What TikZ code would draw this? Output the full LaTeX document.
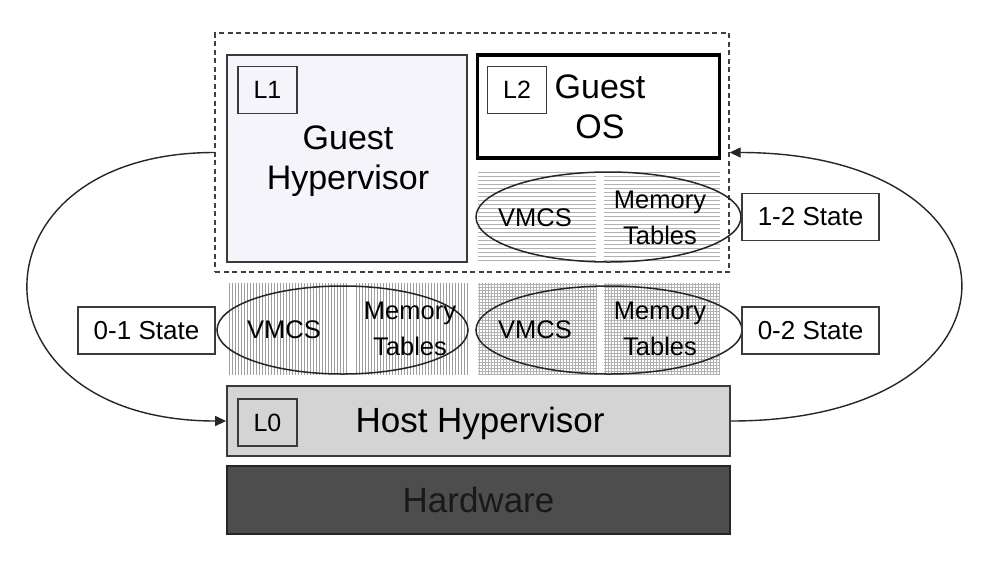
\documentclass[tikz,border=0pt]{standalone}
\usepackage{fontspec}
\setmainfont{Liberation Sans}
\usetikzlibrary{arrows.meta,shapes.geometric}
\definecolor{lavender}{HTML}{F4F4FA}
\definecolor{hostgrey}{HTML}{D4D4D4}
\definecolor{hwgrey}{HTML}{4D4D4D}
\definecolor{edge}{HTML}{3A3A3A}
\begin{document}
\begin{tikzpicture}[x=1pt,y=-1pt,
  box/.style={draw=edge, line width=1.8pt, inner sep=0pt},
  tagbox/.style={draw=edge, line width=1.5pt, inner sep=0pt, minimum width=59pt, minimum height=47pt, font=\fontsize{25}{28}\selectfont},
  statebox/.style={draw=edge, line width=1.7pt, fill=white, inner sep=0pt, minimum width=137pt, minimum height=47pt, font=\fontsize{26}{30}\selectfont},
  bigtext/.style={align=center, inner sep=0pt, font=\fontsize{34}{40}\selectfont},
  smalltext/.style={align=center, inner sep=0pt, font=\fontsize{25.5}{36}\selectfont},
  oval/.style={ellipse, draw=black!85, line width=1.5pt, inner sep=0pt},
  hatch/.style={line width=0.6pt, draw=black!38},
  hatchlight/.style={line width=0.55pt, draw=black!30},
  conn/.style={draw=black!85, line width=1.4pt},
  tip/.style={-{Triangle[length=11pt,width=10pt]}}
]
\useasboundingbox (0,0) rectangle (996,566);
\fill[white] (0,0) rectangle (996,566);

% dashed frame
\node[draw=black!75, dash pattern=on 5pt off 3.5pt, line width=1.4pt, minimum width=514pt, minimum height=239pt, inner sep=0pt] (dash) at (472,152.5) {};

% L1 guest hypervisor
\node[box, fill=lavender, minimum width=240pt, minimum height=207pt] (l1box) at (347,158.5) {};
\node[tagbox] (l1tag) at (267.5,90) {L1};
\node[bigtext] (l1text) at (348,161) {Guest\\Hypervisor};

% L2 guest OS
\node[draw=black, line width=3.6pt, inner sep=0pt, minimum width=242pt, minimum height=103pt] (l2box) at (598.5,106.5) {};
\node[tagbox] (l2tag) at (517,90) {L2};
\node[bigtext] (l2text) at (600,107) {Guest\\OS};

% hatches: upper (horizontal lines)
\foreach \y in {172,176,...,262} {
  \draw[hatchlight] (478,\y) -- (596,\y);
  \draw[hatchlight] (604,\y) -- (720,\y);
}
% middle left (vertical lines)
\foreach \x in {229,232,...,347} \draw[hatch] (\x,283) -- (\x,375);
\foreach \x in {356,359,...,467} \draw[hatch] (\x,283) -- (\x,375);
% middle right (grid)
\foreach \x in {479,482,...,597} \draw[hatchlight] (\x,283) -- (\x,375);
\foreach \x in {605,608,...,720} \draw[hatchlight] (\x,283) -- (\x,375);
\foreach \y in {284,287,...,375} {
  \draw[hatchlight] (478,\y) -- (597,\y);
  \draw[hatchlight] (604,\y) -- (720,\y);
}

% ellipses
\node[oval, minimum width=265pt, minimum height=90pt] (e12) at (608.5,217) {};
\node[oval, minimum width=251pt, minimum height=88pt] (e01) at (342.5,330) {};
\node[oval, minimum width=266pt, minimum height=88pt] (e02) at (609,330) {};

% texts in ellipses
\node[smalltext] (v12) at (535,218) {VMCS};
\node[smalltext] (m12) at (660,218) {Memory\\Tables};
\node[smalltext] (v01) at (284,330) {VMCS};
\node[smalltext] (m01) at (410,329) {Memory\\Tables};
\node[smalltext] (v02) at (535,330) {VMCS};
\node[smalltext] (m02) at (660,329) {Memory\\Tables};

% state boxes
\node[statebox] (s12) at (810.5,217) {1-2 State};
\node[statebox] (s01) at (146.5,330.5) {0-1 State};
\node[statebox] (s02) at (810.5,330.5) {0-2 State};

% host hypervisor
\node[box, fill=hostgrey, minimum width=503pt, minimum height=70pt] (host) at (478.5,421) {};
\node[tagbox] (l0tag) at (267.5,422.5) {L0};
\node[bigtext, font=\fontsize{35}{40}\selectfont] (hosttext) at (480,423) {Host Hypervisor};

% hardware
\node[draw=black!85, line width=1.8pt, fill=hwgrey, inner sep=0pt, minimum width=503pt, minimum height=68pt, text=black!90, font=\fontsize{35}{40}\selectfont] (hw) at (478.5,500) {Hardware};

% connectors
\draw[conn, tip] (dash.west) .. controls +(-250,0) and +(-262,0) .. (host.west);
\draw[conn, tip] (host.east) .. controls +(308,0) and +(306,0) .. (dash.east);
\end{tikzpicture}
\end{document}
